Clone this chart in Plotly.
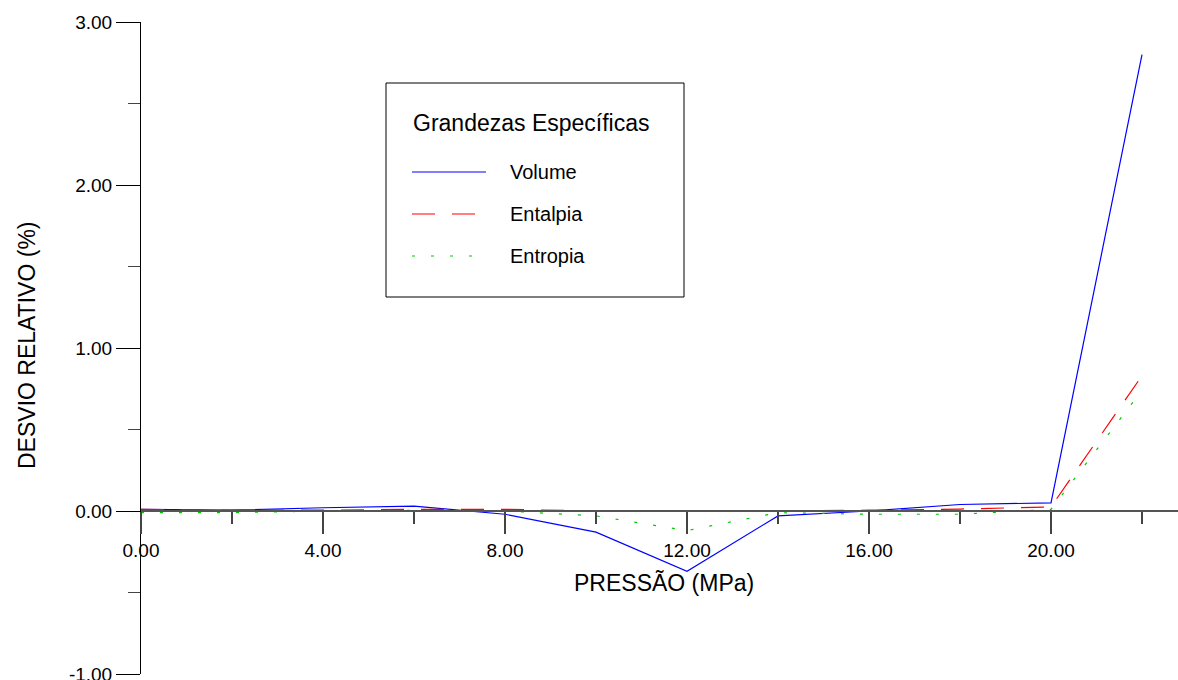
import plotly.graph_objects as go

pressao = [0, 2, 4, 6, 8, 10, 12, 14, 16, 18, 20, 22]
volume = [0.01, 0.005, 0.02, 0.03, -0.02, -0.13, -0.37, -0.03, 0.0, 0.04, 0.05, 2.80]
entalpia = [0.01, 0.005, 0.005, 0.01, 0.01, 0.0, 0.0, 0.0, 0.005, 0.012, 0.025, 0.83]
entropia = [-0.01, -0.01, 0.0, 0.005, 0.0, -0.03, -0.12, -0.01, -0.02, -0.02, 0.01, 0.74]

x_ticks = [0, 4, 8, 12, 16, 20]
y_ticks = [-1, 0, 1, 2, 3]

FONT = "Liberation Sans, Arial, sans-serif"
W, H = 1178, 680
L, R, T, B = 141, 0, 22, 6
PW, PH = W - L - R, H - T - B

def px(x):
    return (x - L) / PW

def py(y):
    return (H - B - y) / PH

fig = go.Figure()
fig.add_trace(go.Scatter(x=pressao, y=volume, mode="lines", name="Volume",
                         line=dict(color="rgb(0,0,255)", width=1.2)))
fig.add_trace(go.Scatter(x=pressao, y=entalpia, mode="lines", name="Entalpia",
                         line=dict(color="rgb(255,0,0)", width=1.2, dash="23px,17px")))
fig.add_trace(go.Scatter(x=pressao, y=entropia, mode="lines", name="Entropia",
                         line=dict(color="rgb(0,200,0)", width=1.2, dash="3px,16px")))

fig.update_layout(
    width=W, height=H,
    margin=dict(l=L, r=R, t=T, b=B, pad=0, autoexpand=False),
    paper_bgcolor="white", plot_bgcolor="white",
    showlegend=False,
    font=dict(family=FONT, size=19, color="black"),
    xaxis=dict(
        range=[0, PW / 45.5], anchor="free", position=0.25,
        tickvals=x_ticks, ticktext=[f"{v:.2f}" for v in x_ticks],
        ticks="outside", ticklen=22, tickwidth=1.5, tickcolor="#444",
        minor=dict(tickvals=[2, 6, 10, 14, 18, 22], ticks="outside", ticklen=12,
                   tickwidth=1.5, tickcolor="#444"),
        showline=True, linecolor="#555", linewidth=1.5,
        showgrid=False, zeroline=False,
        tickfont=dict(size=19, family=FONT),
        ticklabeloverflow="allow", automargin=False,
    ),
    yaxis=dict(
        range=[-1, 3],
        tickvals=y_ticks, ticktext=[f"{v:.2f}" for v in y_ticks],
        ticks="outside", ticklen=24, tickwidth=1, tickcolor="black",
        minor=dict(tickvals=[-0.5, 0.5, 1.5, 2.5], ticks="outside", ticklen=12,
                   tickwidth=1, tickcolor="#444"),
        showline=True, linecolor="black", linewidth=1,
        showgrid=False, zeroline=False,
        tickfont=dict(size=19, family=FONT),
        ticklabeloverflow="allow", automargin=False,
    ),
)

# axis titles
fig.add_annotation(text="PRESSÃO (MPa)", xref="paper", yref="paper",
                   x=px(664), y=py(583), showarrow=False,
                   font=dict(size=23, family=FONT), xanchor="center", yanchor="middle")
fig.add_annotation(text="DESVIO RELATIVO (%)", xref="paper", yref="paper",
                   x=px(27), y=py(345), showarrow=False, textangle=-90,
                   font=dict(size=23, family=FONT), xanchor="center", yanchor="middle")

# legend box
fig.add_shape(type="rect", xref="paper", yref="paper",
              x0=px(386), x1=px(684), y0=py(297), y1=py(83),
              line=dict(color="black", width=1), fillcolor="white", layer="above")
fig.add_annotation(text="Grandezas Específicas", xref="paper", yref="paper",
                   x=px(411), y=py(123), showarrow=False,
                   font=dict(size=23, family=FONT), xanchor="left", yanchor="middle")
legend_items = [("Volume", "rgb(0,0,255)", "solid", 172),
                ("Entalpia", "rgb(255,0,0)", "23px,17px", 214),
                ("Entropia", "rgb(0,200,0)", "3px,16px", 256)]
for name, color, dash, yy in legend_items:
    fig.add_shape(type="line", xref="paper", yref="paper",
                  x0=px(412), x1=px(486), y0=py(yy), y1=py(yy),
                  line=dict(color=color, width=1.2, dash=dash), layer="above")
    fig.add_annotation(text=name, xref="paper", yref="paper",
                       x=px(508), y=py(yy), showarrow=False,
                       font=dict(size=20, family=FONT), xanchor="left", yanchor="middle")

fig.write_html("out.html")
